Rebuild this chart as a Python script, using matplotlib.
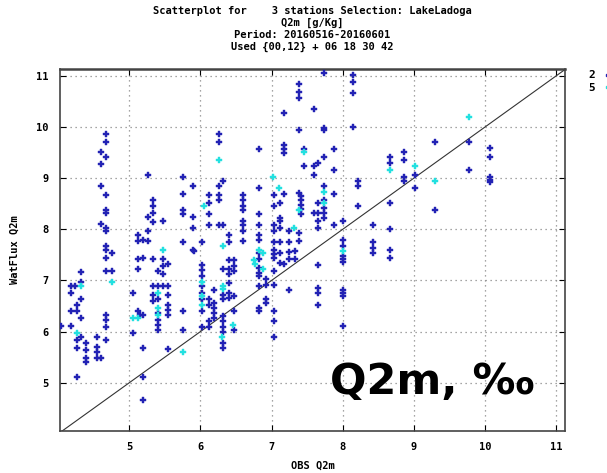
import matplotlib
matplotlib.use("Agg")
import matplotlib.pyplot as plt
from matplotlib.lines import Line2D

# series "2" (blue): obs columns and model values
blue_cols = {
    4.05: [6.11],
    4.18: [6.90, 6.76, 6.40, 6.11],
    4.24: [6.90],
    4.27: [6.53, 6.40, 5.84, 5.68, 5.12],
    4.33: [7.17, 6.97, 6.63, 6.27, 5.89],
    4.40: [5.77, 5.64, 5.48, 5.41],
    4.55: [5.89, 5.71, 5.61, 5.48],
    4.61: [5.48, 9.50, 9.28, 8.85, 8.10],
    4.68: [6.33, 6.23, 6.10, 5.84, 7.18, 7.44, 7.59, 7.67, 7.96, 8.03,
           8.32, 8.38, 8.66, 9.42, 9.71, 9.86],
    4.76: [7.53, 7.18],
    5.06: [6.76, 5.97],
    5.12: [7.88, 7.77, 7.41, 7.23, 6.40],
    5.15: [6.33],
    5.20: [7.80, 7.44, 6.33, 5.68, 5.12, 4.67],
    5.26: [9.06, 8.24, 7.96, 7.77],
    5.34: [8.58, 8.45, 8.32, 8.14, 7.41, 6.90, 6.72, 6.59],
    5.41: [7.18, 6.90, 6.63, 6.36, 6.23, 6.13, 6.04],
    5.48: [8.16, 7.41, 7.28, 7.12, 6.90],
    5.55: [7.33, 6.89, 6.72, 6.53, 6.43, 6.33, 5.67],
    5.76: [9.02, 8.68, 8.37, 8.30, 7.75, 6.40, 6.04],
    5.90: [8.85, 8.24, 8.03, 7.59],
    5.91: [7.58],
    6.03: [7.75, 7.30, 7.20, 7.09, 6.89, 6.76, 6.63, 6.40, 6.10],
    6.12: [8.66, 8.51, 8.30, 8.09, 6.63, 6.53, 6.20, 6.10],
    6.19: [6.82, 6.56, 6.46, 6.36, 6.27],
    6.26: [9.86, 9.71, 8.85, 8.66, 8.58, 8.09],
    6.32: [8.94, 8.09, 7.23, 6.72, 6.63, 6.30, 6.20, 6.10, 6.00, 5.77, 5.68],
    6.40: [7.88, 7.75, 7.40, 7.23, 7.12, 6.95, 6.76, 6.66],
    6.47: [7.40, 7.28, 7.18, 6.69, 6.40, 6.04],
    6.60: [8.66, 8.58, 8.45, 8.37, 8.16, 8.09, 7.96, 7.77],
    6.82: [9.57, 8.80, 8.30, 8.09, 7.88, 7.80, 7.54, 7.41, 7.25, 7.15,
           7.09, 6.89, 6.46, 6.40],
    6.92: [7.02, 6.92, 6.63, 6.56],
    7.04: [8.66, 8.45, 8.09, 7.96, 7.75, 7.59, 7.51, 7.44, 7.18, 6.92,
           6.40, 6.20, 5.89],
    7.12: [8.51, 8.22, 8.16, 8.03, 7.75, 7.53, 7.35],
    7.18: [10.28, 9.65, 9.56, 9.49, 8.68, 7.32],
    7.24: [7.96, 7.75, 7.55, 7.41, 6.82],
    7.33: [7.57, 7.41],
    7.38: [10.84, 10.69, 10.56, 9.93, 8.71, 7.93, 7.77],
    7.42: [8.64, 8.58, 8.48, 8.40, 8.30],
    7.46: [9.56, 9.23],
    7.60: [10.34, 9.23, 9.06, 8.32],
    7.65: [9.29, 8.51, 8.32, 8.16, 8.03, 7.31, 6.85, 6.76, 6.52],
    7.73: [11.05, 9.97, 9.93, 9.42, 8.85, 8.58, 8.42, 8.32, 8.22],
    7.87: [9.56, 9.16, 8.68, 8.09],
    8.00: [8.16, 7.80, 7.67, 7.47, 7.41, 7.36, 6.82, 6.76, 6.69, 6.11],
    8.15: [11.01, 10.88, 10.66, 9.99],
    8.22: [8.94, 8.85, 8.45],
    8.43: [8.09, 7.75, 7.64, 7.54],
    8.66: [9.42, 9.29, 8.51, 8.01, 7.59, 7.44],
    8.86: [9.50, 9.36, 9.02, 8.94],
    9.01: [9.06, 8.81],
    9.29: [9.71, 8.37],
    9.77: [9.71, 9.15],
    10.07: [9.58, 9.42, 9.02, 8.97, 8.92],
}
blue_x = [x for x, ys in blue_cols.items() for _ in ys]
blue_y = [y for ys in blue_cols.values() for y in ys]

# series "5" (cyan)
cyan_x = [4.27, 4.33, 4.76, 5.06, 5.13, 5.41, 5.41, 5.41, 5.48, 5.76,
          6.02, 6.02, 6.02, 6.05, 6.26, 6.32, 6.32, 6.32, 6.31, 6.46,
          6.76, 6.77, 6.82, 6.88, 6.88, 7.02, 7.10, 7.39, 7.32, 7.46,
          7.73, 7.73, 8.00, 8.66, 9.01, 9.29, 9.77]
cyan_y = [5.97, 6.90, 6.97, 6.27, 6.27, 6.76, 6.46, 6.33, 7.59, 5.61,
          6.97, 6.69, 6.53, 8.46, 9.36, 7.67, 6.89, 6.84, 5.89, 6.13,
          7.40, 7.33, 7.59, 7.53, 7.23, 9.02, 8.81, 8.38, 8.03, 9.50,
          8.72, 8.51, 7.57, 9.15, 9.23, 8.94, 10.20]

ticks = [5, 6, 7, 8, 9, 10, 11]
title_lines = [
    "Scatterplot for    3 stations Selection: LakeLadoga",
    "Q2m [g/Kg]",
    "Period: 20160516-20160601",
    "Used {00,12} + 06 18 30 42",
]

BLUE = "#2222b4"
CYAN = "#22e0e0"
MONO = "DejaVu Sans Mono"
MS = 4.5

fig = plt.figure(figsize=(6.07, 4.73), dpi=100)
ax = fig.add_axes([60 / 607, 1 - 431 / 473, 505 / 607, 362 / 473])

ax.plot([4.0, 11.2], [4.0, 11.2], color="#333333", lw=0.8, zorder=2)
ax.plot(blue_x, blue_y, ls="none", marker="P", ms=MS, color=BLUE,
        mec=BLUE, mew=0.3, zorder=3)
ax.plot(cyan_x, cyan_y, ls="none", marker="P", ms=MS, color=CYAN,
        mec=CYAN, mew=0.3, zorder=4)

ax.set_xlim(4.03, 11.12)
ax.set_ylim(4.06, 11.13)
ax.set_xticks(ticks)
ax.set_yticks(ticks)
ax.grid(True, ls=(0, (1, 3)), color="#888888", lw=0.9)
ax.tick_params(direction="in", top=True, right=True, length=4,
               labelsize=7.5, pad=8)
for lab in ax.get_xticklabels() + ax.get_yticklabels():
    lab.set_family(MONO)
    lab.set_weight("bold")
for side in ["left", "bottom", "right", "top"]:
    ax.spines[side].set_color("#444444")
    ax.spines[side].set_linewidth(1.2)
ax.spines["top"].set_linewidth(1.8)

ax.set_xlabel("OBS Q2m", family=MONO, weight="bold", fontsize=7.5, labelpad=6)
ax.set_ylabel("WatFlux Q2m", family=MONO, weight="bold", fontsize=7.5, labelpad=12)

for i, line in enumerate(title_lines):
    fig.text(312 / 607, 1 - (11 + 12 * i) / 473, line, ha="center", va="center",
             family=MONO, weight="bold", fontsize=7.5)

handles = [Line2D([], [], ls="none", marker="P", ms=MS, color=BLUE),
           Line2D([], [], ls="none", marker="P", ms=MS, color=CYAN)]
fig.legend(handles, ["2", "5"], loc="upper left",
           bbox_to_anchor=(584 / 607, 1 - 66 / 473), frameon=False,
           markerfirst=False, handlelength=1.2, handletextpad=0.6,
           labelspacing=0.25, borderaxespad=0,
           prop={"family": MONO, "weight": "bold", "size": 8})

fig.text(330 / 607, 1 - 394 / 473, "Q2m, \u2030", ha="left", va="baseline",
         fontsize=31, weight="bold", family="DejaVu Sans")

fig.savefig("out.png", dpi=100)
